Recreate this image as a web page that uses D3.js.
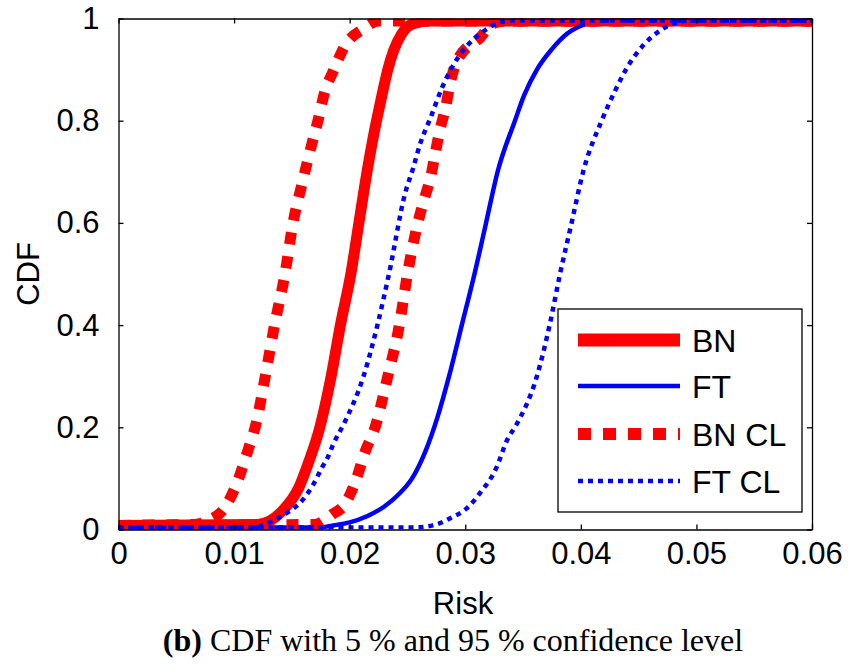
<!DOCTYPE html>
<html>
<head>
<meta charset="utf-8">
<script src="https://cdn.jsdelivr.net/npm/d3@7"></script>
<style>
  html, body { margin: 0; padding: 0; background: #fff; }
  svg { display: block; }
</style>
</head>
<body>
<svg id="chart" width="850" height="668"></svg>
<script>
// ---------------- data ----------------
const xTicks = [0, 0.01, 0.02, 0.03, 0.04, 0.05, 0.06];
const yTicks = [0, 0.2, 0.4, 0.6, 0.8, 1];
const xTickLabels = ["0", "0.01", "0.02", "0.03", "0.04", "0.05", "0.06"];
const yTickLabels = ["0", "0.2", "0.4", "0.6", "0.8", "1"];
const seriesNames = ["BN", "FT", "BN CL", "FT CL"];

const bnRisk = [0, 0.0120, 0.0142, 0.0156, 0.0165, 0.0173, 0.0184, 0.0192, 0.0201, 0.0208, 0.0215, 0.0221, 0.0227, 0.0233, 0.0238, 0.0245, 0.0255, 0.0270, 0.06];
const bnCdf  = [0.008, 0.010, 0.037, 0.082, 0.135, 0.19, 0.30, 0.40, 0.50, 0.60, 0.70, 0.775, 0.84, 0.90, 0.937, 0.97, 0.99, 0.995, 0.995];

const ftRisk = [0, 0.0174, 0.0186, 0.0200, 0.0215, 0.0230, 0.0242, 0.0254, 0.0265, 0.0276, 0.0286, 0.0297, 0.0308, 0.0318, 0.0328, 0.0343, 0.0351, 0.0362, 0.0375, 0.0388, 0.0405, 0.0420, 0.06];
const ftCdf  = [0.004, 0.004, 0.008, 0.014, 0.026, 0.045, 0.068, 0.10, 0.15, 0.22, 0.30, 0.40, 0.50, 0.60, 0.70, 0.80, 0.85, 0.90, 0.94, 0.97, 0.99, 0.996, 0.996];

const bnClLowRisk = [0, 0.0066, 0.0080, 0.0090, 0.0104, 0.0112, 0.0119, 0.0127, 0.0135, 0.0144, 0.0151, 0.0158, 0.0163, 0.0168, 0.0173, 0.0178, 0.0186, 0.0196, 0.0212, 0.0225, 0.06];
const bnClLowCdf  = [0.008, 0.010, 0.020, 0.037, 0.10, 0.155, 0.207, 0.30, 0.40, 0.50, 0.60, 0.669, 0.716, 0.761, 0.804, 0.853, 0.898, 0.947, 0.98, 0.995, 0.995];

const bnClHighRisk = [0, 0.0170, 0.0185, 0.0196, 0.0206, 0.0213, 0.0222, 0.0233, 0.0243, 0.0250, 0.0259, 0.0265, 0.0270, 0.0274, 0.0278, 0.0283, 0.0287, 0.0293, 0.0313, 0.0324, 0.0335, 0.06];
const bnClHighCdf  = [0.008, 0.010, 0.030, 0.050, 0.10, 0.15, 0.20, 0.30, 0.40, 0.50, 0.60, 0.65, 0.689, 0.736, 0.781, 0.826, 0.873, 0.918, 0.963, 0.99, 0.995, 0.995];

const ftClLowRisk = [0, 0.0118, 0.0125, 0.0134, 0.0146, 0.0159, 0.0169, 0.0176, 0.0181, 0.0186, 0.0195, 0.0212, 0.0224, 0.0234, 0.0248, 0.0255, 0.0261, 0.0270, 0.0280, 0.0287, 0.0298, 0.0313, 0.0327, 0.0340, 0.06];
const ftClLowCdf  = [0.004, 0.004, 0.008, 0.018, 0.033, 0.057, 0.09, 0.121, 0.141, 0.168, 0.207, 0.30, 0.40, 0.50, 0.658, 0.708, 0.755, 0.806, 0.865, 0.898, 0.937, 0.97, 0.99, 0.996, 0.996];

const ftClHighRisk = [0, 0.0255, 0.0272, 0.0287, 0.0302, 0.0313, 0.0327, 0.0336, 0.0344, 0.0362, 0.0373, 0.0382, 0.0392, 0.0402, 0.0418, 0.0430, 0.0439, 0.0455, 0.0469, 0.0480, 0.0495, 0.06];
const ftClHighCdf  = [0.004, 0.004, 0.008, 0.022, 0.043, 0.072, 0.121, 0.174, 0.204, 0.30, 0.40, 0.50, 0.60, 0.70, 0.80, 0.86, 0.90, 0.95, 0.977, 0.99, 0.996, 0.996];

// ---------------- layout ----------------
const plot = { left: 118.5, right: 812, top: 18.5, bottom: 529.5 };
const svg = d3.select("#chart");
const x = d3.scaleLinear().domain([0, 0.06]).range([plot.left, plot.right]);
const y = d3.scaleLinear().domain([0, 1]).range([plot.bottom, plot.top]);

const styles = {
  bn:   { color: "#ff0000", width: 11, dash: null },
  ft:   { color: "#0000ff", width: 4.5, dash: null },
  bnCl: { color: "#ff0000", width: 11, dash: "12,12" },
  ftCl: { color: "#0000ff", width: 4.5, dash: "5,5" }
};

svg.append("defs").append("clipPath").attr("id", "clip")
  .append("rect")
  .attr("x", plot.left).attr("y", plot.top)
  .attr("width", plot.right - plot.left).attr("height", plot.bottom - plot.top);

const line = d3.line().x(d => x(d[0])).y(d => y(d[1])).curve(d3.curveMonotoneX);
const zip = (a, b) => a.map((v, i) => [v, b[i]]);

const curves = [
  { data: zip(bnRisk, bnCdf), s: styles.bn },
  { data: zip(ftRisk, ftCdf), s: styles.ft },
  { data: zip(bnClLowRisk, bnClLowCdf), s: styles.bnCl },
  { data: zip(bnClHighRisk, bnClHighCdf), s: styles.bnCl },
  { data: zip(ftClLowRisk, ftClLowCdf), s: styles.ftCl },
  { data: zip(ftClHighRisk, ftClHighCdf), s: styles.ftCl }
];

const gLines = svg.append("g").attr("clip-path", "url(#clip)");
curves.forEach(c => {
  gLines.append("path")
    .datum(c.data)
    .attr("d", line)
    .attr("fill", "none")
    .attr("stroke", c.s.color)
    .attr("stroke-width", c.s.width)
    .attr("stroke-linecap", "butt")
    .attr("stroke-linejoin", "round")
    .attr("stroke-dasharray", c.s.dash);
});

// ---------------- axes ----------------
const font = "'Liberation Sans', Arial, sans-serif";
const tickSize = 5;

const xAxisB = d3.axisBottom(x).tickValues(xTicks).tickFormat((d, i) => xTickLabels[i]).tickSizeInner(-tickSize).tickSizeOuter(0).tickPadding(12);
const xAxisT = d3.axisTop(x).tickValues(xTicks).tickFormat("").tickSizeInner(-tickSize).tickSizeOuter(0);
const yAxisL = d3.axisLeft(y).tickValues(yTicks).tickFormat((d, i) => yTickLabels[i]).tickSizeInner(-tickSize).tickSizeOuter(0).tickPadding(19);
const yAxisR = d3.axisRight(y).tickValues(yTicks).tickFormat("").tickSizeInner(-tickSize).tickSizeOuter(0);

function styleAxis(g) {
  g.select(".domain").attr("stroke", "#000").attr("stroke-width", 1.3);
  g.selectAll(".tick line").attr("stroke", "#000").attr("stroke-width", 1.3);
  g.selectAll(".tick text").attr("fill", "#000").style("font-family", font).style("font-size", "31px");
}
svg.append("g").attr("transform", `translate(0,${plot.bottom})`).call(xAxisB).call(styleAxis);
svg.append("g").attr("transform", `translate(0,${plot.top})`).call(xAxisT).call(styleAxis);
svg.append("g").attr("transform", `translate(${plot.left},0)`).call(yAxisL).call(styleAxis);
svg.append("g").attr("transform", `translate(${plot.right},0)`).call(yAxisR).call(styleAxis);

// axis titles
svg.append("text").attr("x", 463).attr("y", 614)
  .attr("text-anchor", "middle").style("font-family", font).style("font-size", "31px").text("Risk");
svg.append("text").attr("transform", `translate(39,${(plot.top + plot.bottom) / 2}) rotate(-90)`)
  .attr("text-anchor", "middle").style("font-family", font).style("font-size", "31px").text("CDF");

// caption
const cap = svg.append("text").attr("x", 453).attr("y", 651).attr("text-anchor", "middle")
  .style("font-family", "'Liberation Serif', 'Times New Roman', serif").style("font-size", "32px");
cap.append("tspan").attr("font-weight", "bold").text("(b)");
cap.append("tspan").text(" CDF with 5 % and 95 % confidence level");

// ---------------- legend ----------------
const lg = { x: 558, y: 309, w: 244, h: 203 };
svg.append("rect").attr("x", lg.x).attr("y", lg.y).attr("width", lg.w).attr("height", lg.h)
  .attr("fill", "#fff").attr("stroke", "#000").attr("stroke-width", 1.3);
const legendStyles = [styles.bn, styles.ft, styles.bnCl, styles.ftCl];
const legendRowY = [340, 386, 434, 481];
seriesNames.forEach((name, i) => {
  const s = legendStyles[i];
  svg.append("line").attr("x1", 578).attr("x2", 680).attr("y1", legendRowY[i]).attr("y2", legendRowY[i])
    .attr("stroke", s.color).attr("stroke-width", i === 0 ? 13 : (i === 2 ? 12 : s.width))
    .attr("stroke-dasharray", i === 2 ? "13,12" : s.dash);
  svg.append("text").attr("x", 692).attr("y", legendRowY[i]).attr("dy", "0.36em")
    .style("font-family", font).style("font-size", "32px").text(name);
});
</script>
</body>
</html>
